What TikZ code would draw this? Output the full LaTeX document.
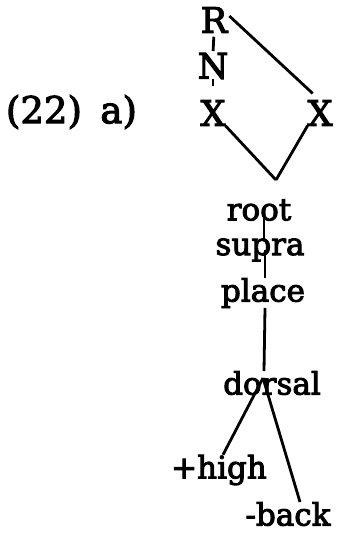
\documentclass[tikz,border=0pt]{standalone}
\usepackage{fontspec}
\setmainfont{DejaVu Serif}[BoldFont=DejaVu Serif, BoldFeatures={FakeBold=3}]
\usetikzlibrary{positioning, calc}

\begin{document}
\begin{tikzpicture}[
  x=1pt, y=-1pt,
  font=\bfseries\fontsize{31}{34}\selectfont,
  seg/.style={inner sep=0pt, outer sep=0pt},
  big/.style={seg, font=\bfseries\fontsize{35}{38}\selectfont},
  link/.style={draw=black, line width=2.8pt}
]
\useasboundingbox (0,0) rectangle (340,535);

% example number
\node[big, anchor=west, font=\bfseries\fontsize{37}{40}\selectfont] (ex) at (6,112) {(22)\hspace{0.5em}a)};

% tiers above the root
\node[big] (R)  at (214,20)  {R};
\node[big] (N)  at (213,66)  {N};
\node[big] (Xl) at (213,113) {X};
\node[big] (Xr) at (320,113) {X};
\coordinate (top) at (276,180);

% feature geometry
\node[seg] (root)   at (259,210) {root};
\node[seg] (supra)  at (260,250) {supra};
\node[seg] (place)  at (263,293) {place};
\node[seg] (dorsal) at (272,383) {dorsal};
\node[seg] (high)   at (219,470) {+high};
\node[seg] (back)   at (288,514) {-back};

% association lines
\draw[link, shorten <=4pt, shorten >=2pt] (R.south) -- (N.north);
\draw[link, dash pattern=on 7pt off 20pt] (N.south) -- (Xl.north);
\draw[link, shorten <=3pt, shorten >=10pt] ([yshift=6pt]R.east) -- (Xr.north);
\draw[link] (Xl.south east) -- (top);
\draw[link] (Xr.south west) -- (top);
\draw[link] ([xshift=5pt]root.center) -- ([xshift=4pt]supra.north);
\draw[link] ([xshift=5pt]supra.center) -- ([xshift=2pt]place.north);
\draw[link] ([xshift=2pt]place.south) -- ([xshift=-8pt]dorsal.north);
\draw[link] ([xshift=-9pt,yshift=5pt]dorsal.center) -- ([xshift=4pt]high.north);
\draw[link] ([xshift=-9pt,yshift=5pt]dorsal.center) -- ([xshift=12pt]back.north);
\end{tikzpicture}
\end{document}
